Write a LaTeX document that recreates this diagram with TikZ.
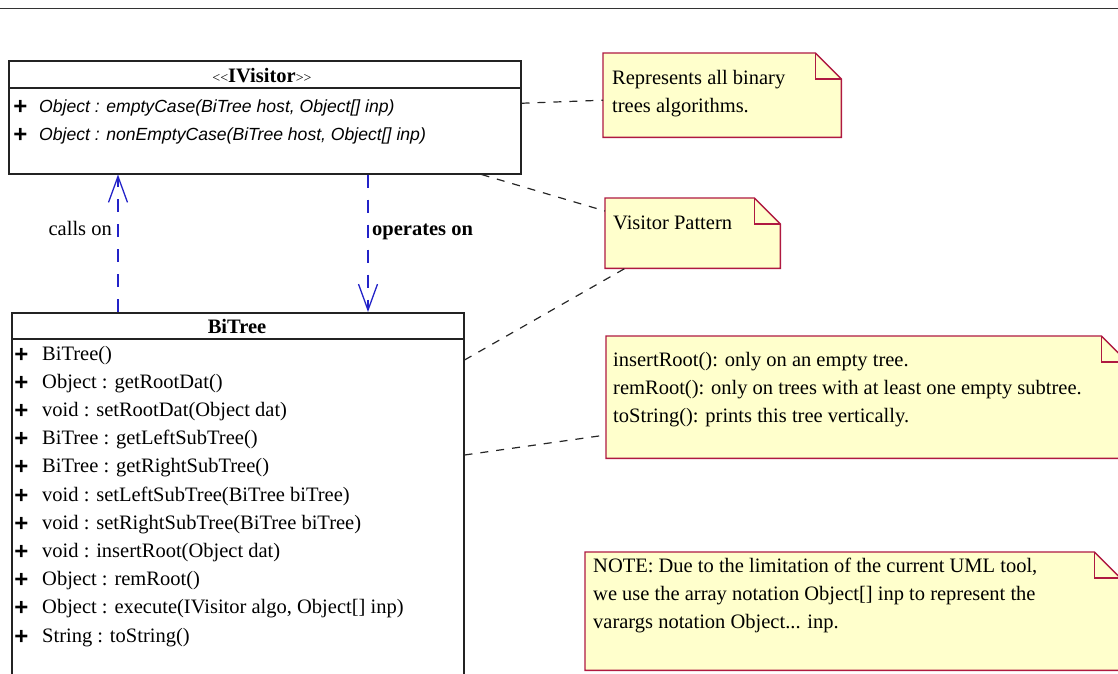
\documentclass[tikz,border=0pt]{standalone}
\usepackage{fontspec}
\setmainfont{Liberation Serif}
\setsansfont{Liberation Sans}
\usetikzlibrary{arrows.meta}
\definecolor{noteborder}{RGB}{175,25,65}
\definecolor{notefill}{RGB}{255,255,204}
\definecolor{linkblue}{RGB}{35,35,200}
\definecolor{boxline}{RGB}{35,35,35}
\tikzset{
  umlbox/.style={draw=boxline, line width=1.5pt, fill=white, rectangle, inner sep=0pt, anchor=north west},
  notebox/.style={rectangle, inner sep=0pt, anchor=north west},
  noteline/.style={draw=noteborder, line width=1.4pt, fill=notefill, line join=miter},
  foldline/.style={draw=noteborder, line width=1.4pt},
  txt/.style={anchor=base west, inner sep=0pt, font=\fontsize{20.5}{24}\selectfont},
  itxt/.style={anchor=base west, inner sep=0pt, font=\sffamily\itshape\fontsize{17.6}{21}\selectfont},
  plussign/.style={anchor=base, inner sep=0pt, font=\sffamily\bfseries\fontsize{24}{26}\selectfont},
  dep/.style={draw=linkblue, line width=1.3pt, dash pattern=on 13pt off 12pt,
    -{Straight Barb[length=26pt, width=19pt, line width=1.3pt]}},
  notelink/.style={draw=black!85, line width=1.2pt, dash pattern=on 8pt off 8pt},
}
\begin{document}
\begin{tikzpicture}[x=1pt,y=-1pt]
\useasboundingbox (0,0) rectangle (1118,673);
\clip (0,0) rectangle (1118,673);
% top rule
\draw[line width=1.6pt, black!80] (0,8.5) -- (1118,8.5);

% IVisitor box
\node[umlbox, minimum width=512pt, minimum height=113pt] (iv) at (8,60) {};
\draw[boxline, line width=1.5pt] ([yshift=-28pt]iv.north west) -- ([yshift=-28pt]iv.north east);
\node[anchor=base, inner sep=0pt, font=\fontsize{20.5}{24}\selectfont] (ivt) at (262,82)
  {{\fontsize{14}{16}\selectfont<{}<}\textbf{IVisitor}{\fontsize{14}{16}\selectfont>{}>}};
\node[plussign] (ivp0) at (20.5,114) {+};
\node[itxt] (ivm0) at (39,112) {Object : emptyCase(BiTree host, Object[] inp)};
\node[plussign] (ivp1) at (20.5,142) {+};
\node[itxt] (ivm1) at (39,140) {Object : nonEmptyCase(BiTree host, Object[] inp)};

% BiTree box
\node[umlbox, minimum width=452pt, minimum height=400pt] (bt) at (11,312) {};
\draw[boxline, line width=1.5pt] ([yshift=-27pt]bt.north west) -- ([yshift=-27pt]bt.north east);
\node[anchor=base, inner sep=0pt, font=\bfseries\fontsize{20.5}{24}\selectfont] (btt) at (237,333) {BiTree};
\foreach \t [count=\i from 0] in {
  {BiTree()},
  {Object : getRootDat()},
  {void : setRootDat(Object dat)},
  {BiTree : getLeftSubTree()},
  {BiTree : getRightSubTree()},
  {void : setLeftSubTree(BiTree biTree)},
  {void : setRightSubTree(BiTree biTree)},
  {void : insertRoot(Object dat)},
  {Object : remRoot()},
  {Object : execute(IVisitor algo, Object[] inp)},
  {String : toString()}}{
  \node[plussign] (btp\i) at (21.5,{362+\i*28.2}) {+};
  \node[txt] (btm\i) at (42,{360+\i*28.2}) {\t};
}

% dependencies
\draw[dep] ([xshift=107pt]bt.north west) -- ([xshift=110pt]iv.south west);
\draw[dep] ([xshift=360pt]iv.south west) -- ([xshift=357pt]bt.north west);
\node[txt, anchor=base east] (callson) at (112,235) {calls on};
\node[txt, font=\bfseries\fontsize{20.5}{24}\selectfont] (operon) at (372,235) {operates on};

% notes
\node[notebox, minimum width=238pt, minimum height=84pt] (n1) at (603,53) {};
\node[notebox, minimum width=175pt, minimum height=70pt] (n2) at (605,198) {};
\node[notebox, minimum width=521pt, minimum height=122pt] (n3) at (606,336) {};
\node[notebox, minimum width=535pt, minimum height=118pt] (n4) at (585,552) {};
\foreach \n in {n1,n2,n3,n4}{
  \path[noteline] (\n.north west) -- ([xshift=-26pt]\n.north east) -- ([yshift=-26pt]\n.north east)
    -- (\n.south east) -- (\n.south west) -- cycle;
  \draw[foldline] ([xshift=-26pt]\n.north east) -- ([xshift=-26pt,yshift=-26pt]\n.north east)
    -- ([yshift=-26pt]\n.north east);
}
\node[txt] (n1a) at (612,84) {Represents all binary};
\node[txt] (n1b) at (612,112) {trees algorithms.};
\node[txt] (n2a) at (613,229) {Visitor Pattern};
\node[txt] (n3a) at (613,366) {insertRoot(): only on an empty tree.};
\node[txt] (n3b) at (613,394) {remRoot(): only on trees with at least one empty subtree.};
\node[txt] (n3c) at (613,422) {toString(): prints this tree vertically.};
\node[txt] (n4a) at (593,572) {NOTE: Due to the limitation of the current UML tool,};
\node[txt] (n4b) at (593,600) {we use the array notation Object[] inp to represent the};
\node[txt] (n4c) at (593,628) {varargs notation Object... inp.};

% note links
\draw[notelink] ([yshift=14pt]iv.east) -- ([yshift=-5pt]n1.west);
\draw[notelink] ([xshift=-40pt]iv.south east) -- ([yshift=-13pt]n2.north west);
\draw[notelink] ([yshift=-48pt]bt.north east) -- ([xshift=20pt]n2.south west);
\draw[notelink] ([yshift=-143pt]bt.north east) -- ([yshift=-99pt]n3.north west);
\end{tikzpicture}
\end{document}
